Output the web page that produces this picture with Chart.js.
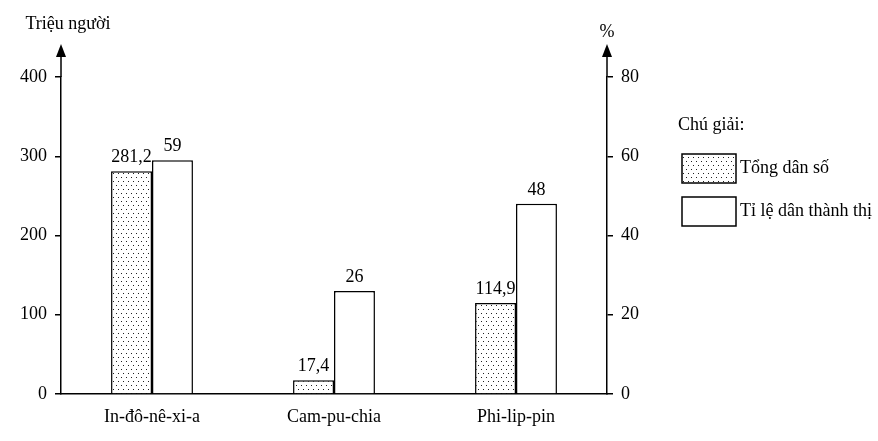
<!DOCTYPE html>
<html>
<head>
<meta charset="utf-8">
<script src="https://cdn.jsdelivr.net/npm/chart.js@4"></script>
<style>
  html, body { margin: 0; padding: 0; background: #fff; }
  #wrap { width: 878px; height: 441px; }
</style>
</head>
<body>
<div id="wrap"><canvas id="chart" width="878" height="441"></canvas></div>
<script>
// data
const countries = ['In-đô-nê-xi-a', 'Cam-pu-chia', 'Phi-lip-pin'];
const totalPop = [281.2, 17.4, 114.9];      // Triệu người (left axis)
const urbanRate = [59, 26, 48];             // % (right axis)
const seriesNames = ['Tổng dân số', 'Tỉ lệ dân thành thị'];
const leftTitle = 'Triệu người';
const rightTitle = '%';
const legendTitle = 'Chú giải:';

const FONT = "'Liberation Serif', 'Times New Roman', serif";

// dotted fill for the population bars
const makeDots = () => {
    const c = document.createElement('canvas');
    c.width = 10;
    c.height = 8;
    const g = c.getContext('2d');
    g.fillStyle = '#fff';
    g.fillRect(0, 0, 10, 8);
    g.fillStyle = '#222';
    g.fillRect(1, 1, 1, 1);
    g.fillRect(6, 1, 1, 1);
    g.fillRect(3, 5, 1, 1);
    g.fillRect(8, 5, 1, 1);
    return g.createPattern(c, 'repeat');
};
const dots = makeDots();

const fmt = (v) => String(v).replace('.', ',');

// arrows on the y axes, titles, value labels and the legend
const decor = {
    id: 'decor',
    afterDraw(chart) {
        const ctx = chart.ctx;
        const top = chart.chartArea.top;
        ctx.save();
        ctx.strokeStyle = '#000';
        ctx.fillStyle = '#000';
        ctx.lineWidth = 1.5;

        // axis arrows
        const drawArrow = (x) => {
            ctx.beginPath();
            ctx.moveTo(x, top);
            ctx.lineTo(x, top - 26);
            ctx.stroke();
            ctx.beginPath();
            ctx.moveTo(x, top - 33);
            ctx.lineTo(x - 5, top - 20);
            ctx.lineTo(x + 5, top - 20);
            ctx.closePath();
            ctx.fill();
        };
        drawArrow(chart.scales.y.right);
        drawArrow(chart.scales.y1.left);

        ctx.font = '18px ' + FONT;
        ctx.textAlign = 'center';
        ctx.textBaseline = 'middle';
        ctx.fillText(leftTitle, chart.scales.y.right + 7, 24);
        ctx.fillText(rightTitle, chart.scales.y1.left, 32);

        // values above bars
        ctx.textBaseline = 'bottom';
        chart.data.datasets.forEach((ds, i) => {
            const meta = chart.getDatasetMeta(i);
            meta.data.forEach((bar, j) => {
                ctx.fillText(fmt(ds.data[j]), bar.x, bar.y - 5);
            });
        });

        // legend
        ctx.textAlign = 'left';
        ctx.textBaseline = 'middle';
        ctx.fillText(legendTitle, 678, 125);
        const boxes = [154, 197];
        chart.data.datasets.forEach((ds, i) => {
            const y = boxes[i];
            ctx.fillStyle = ds.backgroundColor;
            ctx.fillRect(682, y, 54, 29);
            ctx.strokeRect(682, y, 54, 29);
            ctx.fillStyle = '#000';
            ctx.fillText(ds.label, 740, y + 14);
        });
        ctx.restore();
    }
};

new Chart(document.getElementById('chart'), {
    type: 'bar',
    data: {
        labels: countries,
        datasets: [
            {
                label: seriesNames[0],
                data: totalPop,
                backgroundColor: dots,
                borderColor: '#000',
                borderWidth: 1.5,
                yAxisID: 'y'
            },
            {
                label: seriesNames[1],
                data: urbanRate,
                backgroundColor: '#fff',
                borderColor: '#000',
                borderWidth: 1.5,
                yAxisID: 'y1'
            }
        ]
    },
    options: {
        responsive: false,
        animation: false,
        devicePixelRatio: 1,
        layout: { padding: { top: 77, left: 0, right: 230, bottom: 0 } },
        datasets: { bar: { categoryPercentage: 0.45, barPercentage: 1 } },
        plugins: {
            legend: { display: false },
            tooltip: { enabled: false }
        },
        scales: {
            x: {
                grid: { display: false, drawTicks: false },
                border: { display: true, color: '#000', width: 1.5 },
                ticks: { color: '#000', font: { family: FONT, size: 18 }, padding: 12 },
                afterFit: (s) => { s.height = 47; }
            },
            y: {
                position: 'left',
                min: 0,
                max: 400,
                ticks: { stepSize: 100, color: '#000', font: { family: FONT, size: 18 }, padding: 8 },
                grid: { drawOnChartArea: false, color: '#000', tickLength: 6, lineWidth: 1.5 },
                border: { color: '#000', width: 1.5 },
                afterFit: (s) => { s.width = 61; }
            },
            y1: {
                position: 'right',
                min: 0,
                max: 80,
                ticks: { stepSize: 20, color: '#000', font: { family: FONT, size: 18 }, padding: 8 },
                grid: { drawOnChartArea: false, color: '#000', tickLength: 6, lineWidth: 1.5 },
                border: { color: '#000', width: 1.5 },
                afterFit: (s) => { s.width = 41; }
            }
        }
    },
    plugins: [decor]
});
</script>
</body>
</html>
